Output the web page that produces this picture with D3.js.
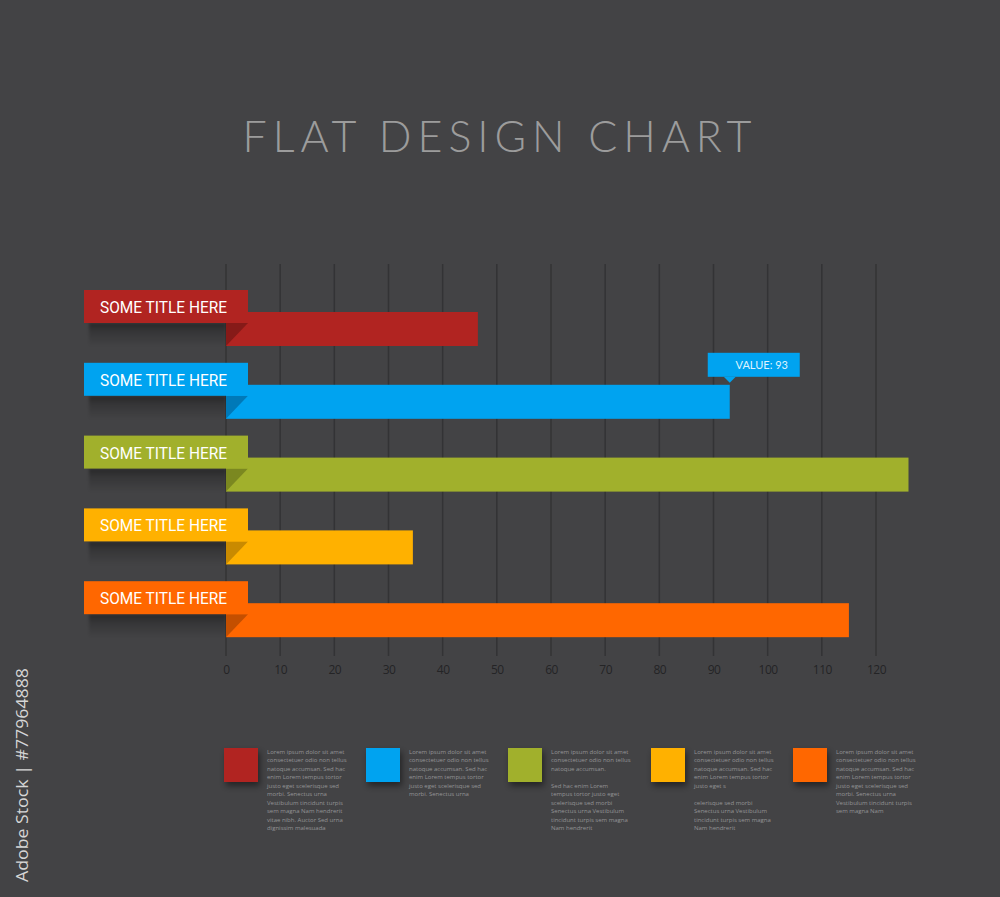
<!DOCTYPE html>
<html><head><meta charset="utf-8">
<script src="https://cdn.jsdelivr.net/npm/d3@7"></script>
<style>
html,body{margin:0;padding:0;background:#434345;}
svg{display:block;}
</style></head>
<body>
<script>
const categories = ["SOME TITLE HERE","SOME TITLE HERE","SOME TITLE HERE","SOME TITLE HERE","SOME TITLE HERE"];
const values = [46.5, 93, 126, 34.5, 115];
const barColors = ["#b12421","#00a3f0","#a1b02c","#ffb100","#ff6700"];
const foldColors = ["#861a18","#0079b8","#7b8820","#c98a00","#c44f00"];
const tickValues = [0,10,20,30,40,50,60,70,80,90,100,110,120];
const highlightIndex = 1;
const highlightLabel = "VALUE: 93";
const legendTexts = [
 ["Lorem ipsum dolor sit amet","consectetuer odio non tellus","natoque accumsan. Sed hac","enim Lorem tempus tortor","justo eget scelerisque sed","morbi. Senectus urna","Vestibulum tincidunt turpis","sem magna Nam hendrerit","vitae nibh. Auctor Sed urna","dignissim malesuada"],
 ["Lorem ipsum dolor sit amet","consectetuer odio non tellus","natoque accumsan. Sed hac","enim Lorem tempus tortor","justo eget scelerisque sed","morbi. Senectus urna"],
 ["Lorem ipsum dolor sit amet","consectetuer odio non tellus","natoque accumsan.","","Sed hac enim Lorem","tempus tortor justo eget","scelerisque sed morbi","Senectus urna Vestibulum","tincidunt turpis sem magna","Nam hendrerit"],
 ["Lorem ipsum dolor sit amet","consectetuer odio non tellus","natoque accumsan. Sed hac","enim Lorem tempus tortor","justo eget s","","celerisque sed morbi","Senectus urna Vestibulum","tincidunt turpis sem magna","Nam hendrerit"],
 ["Lorem ipsum dolor sit amet","consectetuer odio non tellus","natoque accumsan. Sed hac","enim Lorem tempus tortor","justo eget scelerisque sed","morbi. Senectus urna","Vestibulum tincidunt turpis","sem magna Nam"]
];

const W=1000,H=897;
const svg=d3.select("body").append("svg").attr("width",W).attr("height",H);
svg.append("rect").attr("width",W).attr("height",H).attr("fill","#434345");

const defs=svg.append("defs");
const sg=defs.append("linearGradient").attr("id","shadowGrad").attr("x1",0).attr("y1",0).attr("x2",0).attr("y2",1);
sg.append("stop").attr("offset","0%").attr("stop-color","#000").attr("stop-opacity",0.42);
sg.append("stop").attr("offset","35%").attr("stop-color","#000").attr("stop-opacity",0.2);
sg.append("stop").attr("offset","100%").attr("stop-color","#000").attr("stop-opacity",0);
const blur=defs.append("filter").attr("id","blur").attr("x","-30%").attr("y","-50%").attr("width","160%").attr("height","200%");
blur.append("feGaussianBlur").attr("stdDeviation",3);
const sblur=defs.append("filter").attr("id","sblur").attr("x","-10%").attr("y","-50%").attr("width","120%").attr("height","200%");
sblur.append("feGaussianBlur").attr("stdDeviation",1.5);

// Title
svg.append("text").attr("x",497).attr("y",152).attr("text-anchor","middle")
 .attr("font-family","Lato, 'Open Sans', sans-serif").attr("font-weight",300)
 .attr("font-size",43).attr("fill","#9c9c9c")
 .attr("textLength",509).attr("lengthAdjust","spacing")
 .text("FLAT DESIGN CHART");

const x=d3.scaleLinear().domain([0,120]).range([226,876]);
const y=d3.scaleBand().domain(d3.range(values.length)).range([290,290+72.8*values.length]).paddingInner(0);

// Gridlines
svg.append("g").selectAll("line").data(tickValues).join("line")
 .attr("x1",d=>x(d)).attr("x2",d=>x(d)).attr("y1",264).attr("y2",656)
 .attr("stroke","#333335").attr("stroke-width",1.5);

// Axis labels
const axis=d3.axisBottom(x).tickValues(tickValues).tickSize(0).tickPadding(0);
const ag=svg.append("g").attr("transform","translate(0,665)").call(axis);
ag.select(".domain").remove();
ag.selectAll("text").attr("font-family","'Open Sans', sans-serif").attr("font-size",12)
 .attr("fill","#242426").attr("dy","0.75em").attr("letter-spacing","-0.5");

const labelX=84, labelW=164, labelH=33, barOff=22, barH=34;

const rows=svg.append("g").selectAll("g").data(values).join("g");
// label shadow
rows.append("rect").attr("x",labelX+5).attr("y",(d,i)=>y(i)+labelH).attr("width",226-labelX-5).attr("height",24)
 .attr("fill","url(#shadowGrad)").attr("filter","url(#sblur)");
// bars
rows.append("rect").attr("x",x(0)).attr("y",(d,i)=>y(i)+barOff).attr("width",d=>x(d)-x(0)).attr("height",barH)
 .attr("fill",(d,i)=>barColors[i]);
// fold triangle
rows.append("path").attr("d",(d,i)=>{const t=y(i)+labelH, b=y(i)+barOff+barH;
  return `M${x(0)},${t} L${labelX+labelW},${t} L${x(0)},${b} Z`;})
 .attr("fill",(d,i)=>foldColors[i]);
// label box
rows.append("rect").attr("x",labelX).attr("y",(d,i)=>y(i)).attr("width",labelW).attr("height",labelH)
 .attr("fill",(d,i)=>barColors[i]);
rows.append("text").attr("x",100).attr("y",(d,i)=>y(i)+23)
 .attr("font-family","'Liberation Sans Narrow','Roboto','Open Sans',sans-serif").attr("font-size",17)
 .attr("fill","#ffffff").attr("textLength",127).attr("lengthAdjust","spacingAndGlyphs")
 .text((d,i)=>categories[i]);

// Tooltip on highlighted bar
const hv=values[highlightIndex];
const tipX=x(hv), tipY=y(highlightIndex)+barOff-8;
const tg=svg.append("g");
tg.append("rect").attr("x",tipX-22).attr("y",tipY-24).attr("width",92).attr("height",24).attr("fill",barColors[highlightIndex]);
tg.append("path").attr("d",`M${tipX-6},${tipY} L${tipX+6},${tipY} L${tipX},${tipY+6} Z`).attr("fill",barColors[highlightIndex]);
tg.append("text").attr("x",tipX+32).attr("y",tipY-8).attr("text-anchor","middle")
 .attr("font-family","Lato, 'Open Sans', sans-serif").attr("font-size",11).attr("fill","#dff3ff")
 .text(highlightLabel);

// Legend
const legX=[224,366,508,651,793];
const lg=svg.append("g").selectAll("g").data(legendTexts).join("g");
lg.append("rect").attr("x",(d,i)=>legX[i]+2).attr("y",752).attr("width",34).attr("height",34)
 .attr("fill","#000").attr("opacity",0.45).attr("filter","url(#blur)");
lg.append("rect").attr("x",(d,i)=>legX[i]).attr("y",748).attr("width",34).attr("height",34)
 .attr("fill",(d,i)=>barColors[i]);
lg.each(function(lines,i){
  const t=d3.select(this).append("text").attr("font-family","'Open Sans', sans-serif").attr("font-size",6)
   .attr("fill","#949496");
  lines.forEach((ln,j)=>{
    t.append("tspan").attr("x",legX[i]+43).attr("y",753.5+j*8.5).text(ln);
  });
});

// Vertical credit text
svg.append("text").attr("transform","translate(28,882) rotate(-90)")
 .attr("font-family","'Open Sans', sans-serif").attr("font-size",17).attr("fill","#d6d6d6")
 .attr("textLength",214).attr("lengthAdjust","spacingAndGlyphs")
 .text("Adobe Stock | #77964888");
</script>
</body></html>
